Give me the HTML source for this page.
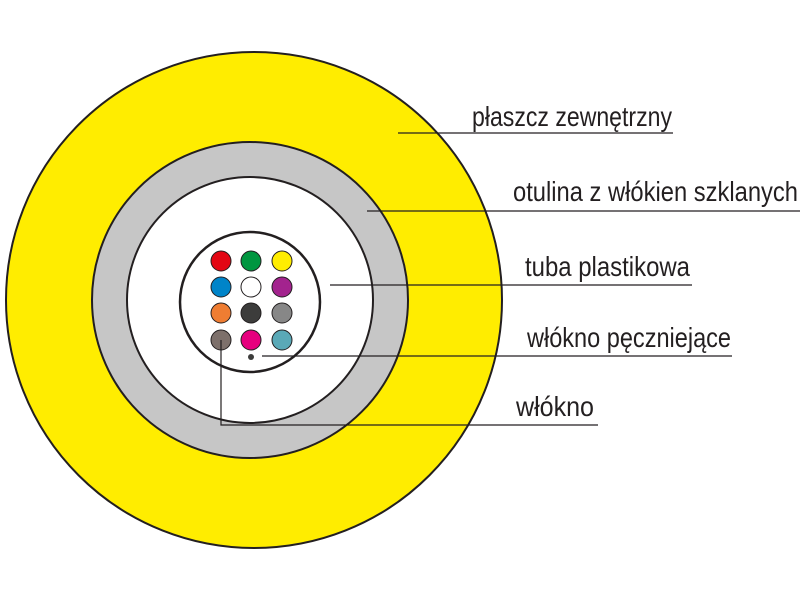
<!DOCTYPE html>
<html><head><meta charset="utf-8"><style>html,body{margin:0;padding:0;background:#fff}</style></head><body>
<svg width="800" height="600" viewBox="0 0 800 600" xmlns="http://www.w3.org/2000/svg">
<circle cx="254" cy="300" r="248" fill="#ffed00" stroke="#231f20" stroke-width="2"/>
<circle cx="250" cy="300" r="158" fill="#c6c6c6" stroke="#231f20" stroke-width="2"/>
<circle cx="250" cy="300" r="123" fill="#ffffff" stroke="#231f20" stroke-width="2"/>
<circle cx="250" cy="302" r="70" fill="#ffffff" stroke="#231f20" stroke-width="2.5"/>
<g stroke="#231f20" stroke-width="1">
<circle cx="221" cy="261" r="10" fill="#e30613"/>
<circle cx="251" cy="261" r="10" fill="#009640"/>
<circle cx="282" cy="261" r="10" fill="#ffed00"/>
<circle cx="221" cy="287" r="10" fill="#0084c9"/>
<circle cx="251" cy="287" r="10" fill="#ffffff"/>
<circle cx="282" cy="287" r="10" fill="#a3238e"/>
<circle cx="221" cy="313" r="10" fill="#ef7d32"/>
<circle cx="251" cy="313" r="10" fill="#3c3c3b"/>
<circle cx="282" cy="313" r="10" fill="#878787"/>
<circle cx="221" cy="340" r="10" fill="#7d706b"/>
<circle cx="251" cy="340" r="10" fill="#e6007e"/>
<circle cx="282" cy="340" r="10" fill="#5aa9b7"/>
</g>
<circle cx="251" cy="357" r="3" fill="#3c3c3b"/>
<g stroke="#231f20" stroke-width="1.2" fill="none">
<line x1="398" y1="133" x2="673" y2="133"/>
<line x1="367" y1="211" x2="800" y2="211"/>
<line x1="330" y1="285" x2="692" y2="285"/>
<line x1="262" y1="356" x2="732" y2="356"/>
<polyline points="221,340 221,425 598,425"/>
</g>
<g font-family="'Liberation Sans Narrow','Liberation Sans',sans-serif" font-size="28" fill="#231f20">
<text x="472" y="126" textLength="200" lengthAdjust="spacingAndGlyphs">płaszcz zewnętrzny</text>
<text x="513" y="201" textLength="285" lengthAdjust="spacingAndGlyphs">otulina z włókien szklanych</text>
<text x="525" y="276" textLength="165" lengthAdjust="spacingAndGlyphs">tuba plastikowa</text>
<text x="527" y="347" textLength="204" lengthAdjust="spacingAndGlyphs">włókno pęczniejące</text>
<text x="516" y="416" textLength="78" lengthAdjust="spacingAndGlyphs">włókno</text>
</g>
</svg>
</body></html>
